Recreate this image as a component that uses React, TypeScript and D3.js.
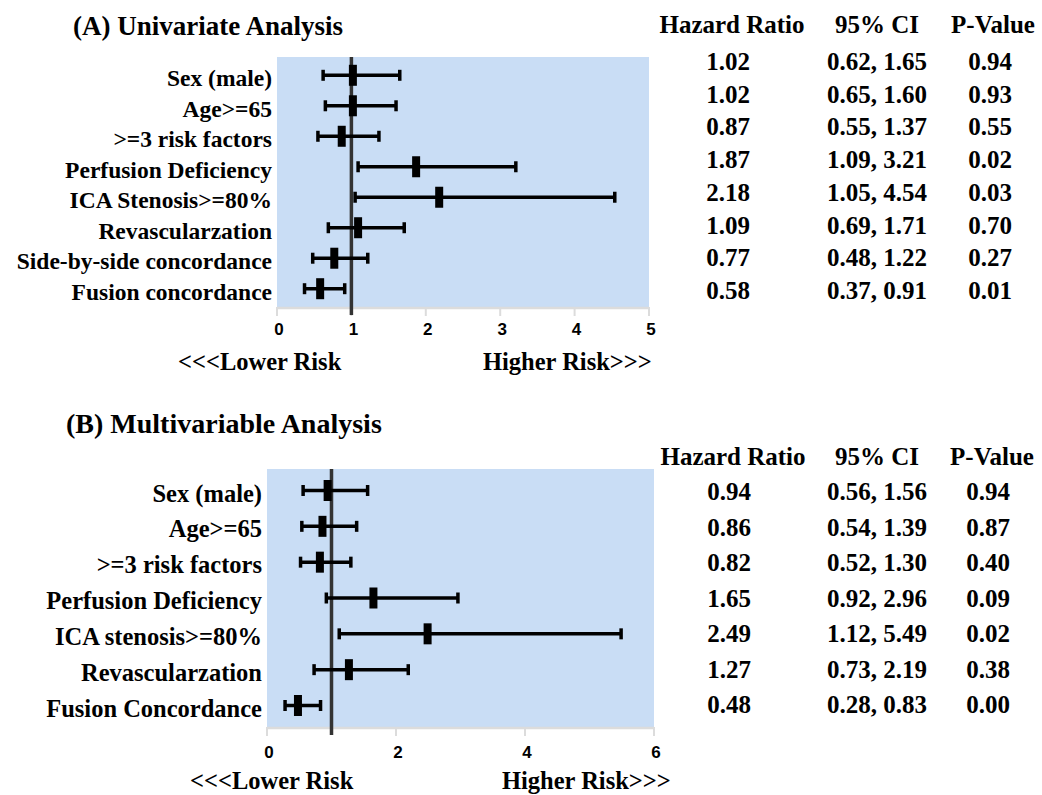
import * as d3 from 'd3';
import React from 'react';

// (A) univariate
const labelsA = [
  'Sex (male)',
  'Age>=65',
  '>=3 risk factors',
  'Perfusion Deficiency',
  'ICA Stenosis>=80%',
  'Revascularzation',
  'Side-by-side concordance',
  'Fusion concordance',
];
const hrA = [1.02, 1.02, 0.87, 1.87, 2.18, 1.09, 0.77, 0.58];
const loA = [0.62, 0.65, 0.55, 1.09, 1.05, 0.69, 0.48, 0.37];
const hiA = [1.65, 1.6, 1.37, 3.21, 4.54, 1.71, 1.22, 0.91];
const pA = [0.94, 0.93, 0.55, 0.02, 0.03, 0.7, 0.27, 0.01];
const ticksA = [0, 1, 2, 3, 4, 5];

// (B) multivariable
const labelsB = [
  'Sex (male)',
  'Age>=65',
  '>=3 risk factors',
  'Perfusion Deficiency',
  'ICA stenosis>=80%',
  'Revascularzation',
  'Fusion Concordance',
];
const hrB = [0.94, 0.86, 0.82, 1.65, 2.49, 1.27, 0.48];
const loB = [0.56, 0.54, 0.52, 0.92, 1.12, 0.73, 0.28];
const hiB = [1.56, 1.39, 1.3, 2.96, 5.49, 2.19, 0.83];
const pB = [0.94, 0.87, 0.4, 0.09, 0.02, 0.38, 0.0];
const ticksB = [0, 2, 4, 6];

const headers = ['Hazard Ratio', '95% CI', 'P-Value'];

const SERIF = 'Liberation Serif, DejaVu Serif, serif';
const SANS = 'Liberation Sans, Arial, sans-serif';

interface Layout {
  title: string;
  titleX: number;
  titleY: number;
  titleSize: number;
  left: number;
  right: number;
  top: number;
  bottom: number;
  labelSize: number;
  tickY: number;
  riskY: number;
  lowerX: number;
  higherX: number;
  headerY: number;
  rowsTop: number;
  rowsBottom: number;
  colX: number[];
  headX: number[];
}

interface Props {
  layout: Layout;
  labels: string[];
  hr: number[];
  lo: number[];
  hi: number[];
  p: number[];
  ticks: number[];
}

const serif = (size: number) => ({ fontFamily: SERIF, fontWeight: 'bold' as const, fontSize: size });

const Forest = ({ layout: L, labels, hr, lo, hi, p, ticks }: Props) => {
  const x = d3
    .scaleLinear()
    .domain([0, ticks[ticks.length - 1]])
    .range([L.left, L.right]);
  const y = d3.scalePoint<string>().domain(labels).range([L.top, L.bottom]).padding(0.6);
  const yt = d3.scalePoint<string>().domain(labels).range([L.rowsTop, L.rowsBottom]);
  const fmt = d3.format('.2f');
  const cap = 5.5;

  return (
    <g>
      <text x={L.titleX} y={L.titleY} style={serif(L.titleSize)}>
        {L.title}
      </text>
      <rect x={L.left} y={L.top} width={L.right - L.left} height={L.bottom - L.top} fill="#c9ddf5" />
      {/* axis */}
      <line x1={L.left} x2={L.right} y1={L.bottom + 1} y2={L.bottom + 1} stroke="#dcdcdc" strokeWidth={2.5} />
      {ticks.map((t) => (
        <g key={t}>
          <line x1={x(t)} x2={x(t)} y1={L.bottom} y2={L.bottom + 9} stroke="#dcdcdc" strokeWidth={2} />
          <text
            x={x(t) + 2}
            y={L.tickY}
            textAnchor="middle"
            style={{ fontFamily: SANS, fontWeight: 'bold', fontSize: 17 }}
          >
            {t}
          </text>
        </g>
      ))}
      {/* reference line at HR = 1 */}
      <line x1={x(1)} x2={x(1)} y1={L.top} y2={L.bottom + 8} stroke="#333" strokeWidth={3.5} />
      {labels.map((lab, i) => {
        const cy = y(lab)!;
        return (
          <g key={lab}>
            <text x={L.left - 5} y={cy + 11} textAnchor="end" style={serif(L.labelSize)}>
              {lab}
            </text>
            <line x1={x(lo[i])} x2={x(hi[i])} y1={cy} y2={cy} stroke="#000" strokeWidth={3.5} />
            <line x1={x(lo[i])} x2={x(lo[i])} y1={cy - cap} y2={cy + cap} stroke="#000" strokeWidth={3.5} />
            <line x1={x(hi[i])} x2={x(hi[i])} y1={cy - cap} y2={cy + cap} stroke="#000" strokeWidth={3.5} />
            <rect x={x(hr[i]) - 4} y={cy - 10.5} width={8} height={21} fill="#000" />
            {/* table row */}
            {[fmt(hr[i]), `${fmt(lo[i])}, ${fmt(hi[i])}`, fmt(p[i])].map((s, j) => (
              <text key={j} x={L.colX[j]} y={yt(lab)} textAnchor="middle" style={serif(25)}>
                {s}
              </text>
            ))}
          </g>
        );
      })}
      {headers.map((h, j) => (
        <text key={h} x={L.headX[j]} y={L.headerY} textAnchor="middle" style={serif(25)}>
          {h}
        </text>
      ))}
      <text x={L.lowerX} y={L.riskY} style={serif(24.5)}>
        {'<<<Lower Risk'}
      </text>
      <text x={L.higherX} y={L.riskY} style={serif(24.5)}>
        {'Higher Risk>>>'}
      </text>
    </g>
  );
};

const layoutA: Layout = {
  title: '(A) Univariate Analysis',
  titleX: 73,
  titleY: 35,
  titleSize: 27,
  left: 277,
  right: 649,
  top: 57,
  bottom: 307,
  labelSize: 23.5,
  tickY: 335,
  riskY: 370,
  lowerX: 178,
  higherX: 483,
  headerY: 33,
  rowsTop: 70,
  rowsBottom: 299,
  colX: [728, 877, 990],
  headX: [732, 877, 993],
};

const layoutB: Layout = {
  title: '(B) Multivariable Analysis',
  titleX: 66,
  titleY: 433,
  titleSize: 28,
  left: 267,
  right: 654,
  top: 469,
  bottom: 727,
  labelSize: 24.5,
  tickY: 758,
  riskY: 789,
  lowerX: 190,
  higherX: 502,
  headerY: 465,
  rowsTop: 500,
  rowsBottom: 713,
  colX: [729, 877, 988],
  headX: [733, 877, 992],
};

export default function App() {
  return (
    <svg
      width={1042}
      height={795}
      style={{ position: 'absolute', left: 0, top: 0, background: '#fff' }}
    >
      <Forest layout={layoutA} labels={labelsA} hr={hrA} lo={loA} hi={hiA} p={pA} ticks={ticksA} />
      <Forest layout={layoutB} labels={labelsB} hr={hrB} lo={loB} hi={hiB} p={pB} ticks={ticksB} />
    </svg>
  );
}
